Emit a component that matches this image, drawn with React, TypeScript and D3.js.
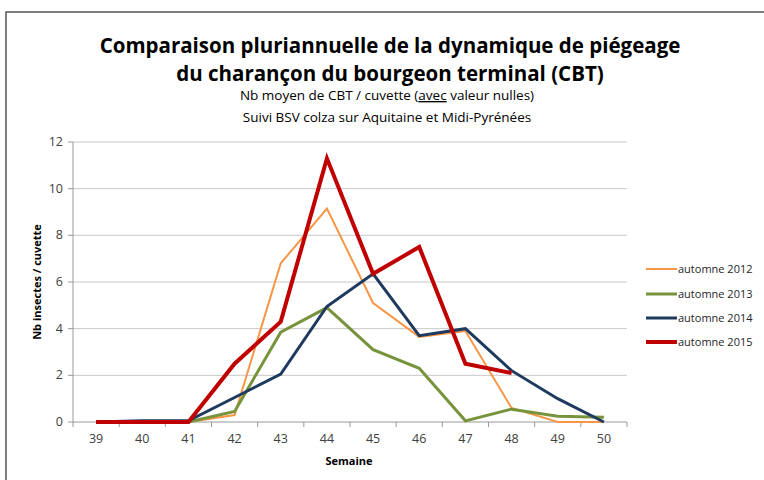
import React from 'react'
import * as d3 from 'd3'

const weeks = ['39', '40', '41', '42', '43', '44', '45', '46', '47', '48', '49', '50']
const yTicks = [0, 2, 4, 6, 8, 10, 12]

const seriesNames = ['automne 2012', 'automne 2013', 'automne 2014', 'automne 2015']
const a2012 = [0, 0, 0, 0.3, 6.8, 9.15, 5.1, 3.65, 3.9, 0.6, 0, 0]
const a2013 = [0, 0, 0, 0.45, 3.85, 4.9, 3.1, 2.3, 0.05, 0.55, 0.25, 0.2]
const a2014 = [0, 0.05, 0.05, 1.05, 2.05, 4.95, 6.35, 3.7, 4.0, 2.2, 1.0, 0]
const a2015 = [0, 0, 0, 2.5, 4.3, 11.3, 6.35, 7.5, 2.5, 2.1]

const colors = ['#F79646', '#77933C', '#1F3A5F', '#C00000']
const widths = [2, 3, 3, 4]

const W = 764
const H = 480
const font = "'Open Sans', 'Noto Sans', sans-serif"

export default function App() {
  const margin = { left: 73, right: 137, top: 142, bottom: 58 }
  const x = d3.scaleBand().domain(weeks).range([margin.left, W - margin.right])
  const y = d3.scaleLinear().domain([0, 12]).range([H - margin.bottom, margin.top])
  const cx = (w: string) => (x(w) ?? 0) + x.bandwidth() / 2

  const all = [a2012, a2013, a2014, a2015]
  const line = d3
    .line<number>()
    .x((_, i) => cx(weeks[i]))
    .y((d) => y(d))

  const legendY = [269, 294, 318, 342]

  return (
    <svg width={W} height={H} style={{ position: 'absolute', left: 0, top: 0, background: '#fff' }} fontFamily={font}>
      <rect x={6} y={12} width={W + 10} height={H + 10} fill="#fff" stroke="#555" strokeWidth={1.5} />

      <text x={390} y={53} textAnchor="middle" fontSize={20.5} fontWeight="bold" fill="#000">
        Comparaison pluriannuelle de la dynamique de piégeage
      </text>
      <text x={390} y={81} textAnchor="middle" fontSize={20.5} fontWeight="bold" fill="#000">
        du charançon du bourgeon terminal (CBT)
      </text>
      <text x={387} y={100} textAnchor="middle" fontSize={13.5} fill="#000">
        Nb moyen de CBT / cuvette (<tspan textDecoration="underline">avec</tspan> valeur nulles)
      </text>
      <text x={387} y={122} textAnchor="middle" fontSize={13.5} fill="#000">
        Suivi BSV colza sur Aquitaine et Midi-Pyrénées
      </text>

      {yTicks.map((t) => (
        <g key={t}>
          <line x1={margin.left} x2={W - margin.right} y1={y(t)} y2={y(t)} stroke={t === 0 ? '#999' : '#c8c8c8'} strokeWidth={1} />
          <line x1={margin.left - 5} x2={margin.left} y1={y(t)} y2={y(t)} stroke="#999" />
          <text x={margin.left - 10} y={y(t) + 4} textAnchor="end" fontSize={12.5} fill="#404040">
            {t}
          </text>
        </g>
      ))}
      <line x1={margin.left} x2={margin.left} y1={y(12)} y2={y(0)} stroke="#999" />

      {d3.range(weeks.length + 1).map((i) => {
        const xx = margin.left + i * x.step()
        return <line key={i} x1={xx} x2={xx} y1={y(0)} y2={y(0) + 5} stroke="#999" />
      })}
      {weeks.map((w) => (
        <text key={w} x={cx(w)} y={y(0) + 21} textAnchor="middle" fontSize={12.5} fill="#404040">
          {w}
        </text>
      ))}

      <text x={349} y={465} textAnchor="middle" fontSize={11} fontWeight="bold" fill="#000">
        Semaine
      </text>
      <text transform={`translate(41, ${(y(0) + y(12)) / 2}) rotate(-90)`} textAnchor="middle" fontSize={11} fontWeight="bold" fill="#000">
        Nb insectes / cuvette
      </text>

      {all.map((s, i) => (
        <path key={i} d={line(s) ?? ''} fill="none" stroke={colors[i]} strokeWidth={widths[i]} strokeLinejoin="miter" />
      ))}

      {seriesNames.map((n, i) => (
        <g key={n}>
          <line x1={646} x2={677} y1={legendY[i]} y2={legendY[i]} stroke={colors[i]} strokeWidth={widths[i]} />
          <text x={678} y={legendY[i] + 4} fontSize={11} fill="#262626">
            {n}
          </text>
        </g>
      ))}
    </svg>
  )
}
